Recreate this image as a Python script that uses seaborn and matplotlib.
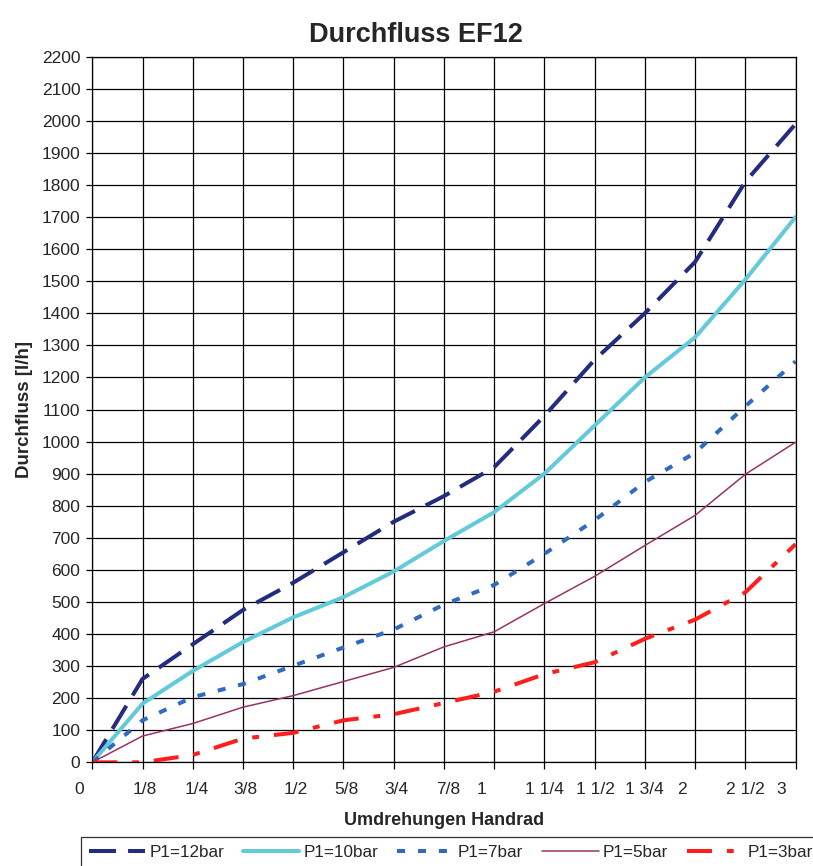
import numpy as np
import pandas as pd
import matplotlib
matplotlib.use("Agg")
import matplotlib.pyplot as plt
import seaborn as sns
from matplotlib.transforms import ScaledTranslation

# Daten
umdrehungen = ["0", "1/8", "1/4", "3/8", "1/2", "5/8", "3/4", "7/8", "1",
               "1 1/4", "1 1/2", "1 3/4", "2", "2 1/2", "3"]
p1_12bar = [0, 260, 368, 475, 560, 655, 750, 830, 920, 1080, 1255, 1400, 1560, 1810, 1990]
p1_10bar = [0, 183, 285, 375, 452, 515, 595, 690, 780, 900, 1050, 1200, 1325, 1505, 1700]
p1_7bar = [0, 131, 203, 244, 301, 358, 414, 492, 553, 650, 755, 874, 965, 1110, 1250]
p1_5bar = [0, 82, 121, 172, 208, 252, 296, 360, 407, 495, 580, 676, 770, 898, 998]
p1_3bar = [0, 0, 23, 74, 92, 131, 150, 185, 220, 275, 312, 385, 445, 530, 680]

serien = ["P1=12bar", "P1=10bar", "P1=7bar", "P1=5bar", "P1=3bar"]
werte = [p1_12bar, p1_10bar, p1_7bar, p1_5bar, p1_3bar]

df = pd.DataFrame({
    "Umdrehungen": umdrehungen * len(serien),
    "Durchfluss": sum(werte, []),
    "Serie": np.repeat(serien, len(umdrehungen)),
})

stile = {
    "P1=12bar": dict(color="#232C7E", lw=2.9, ls=(0, (6.7, 3.0))),
    "P1=10bar": dict(color="#62CAD9", lw=2.9, ls="-"),
    "P1=7bar": dict(color="#2F6BC2", lw=2.9, ls=(0, (2.0, 3.2))),
    "P1=5bar": dict(color="#993366", lw=1.1, ls="-"),
    "P1=3bar": dict(color="#FF1E1E", lw=2.9, ls=(0, (6.2, 3.7, 1.7, 3.7))),
}

sns.set_style("white")
plt.rcParams["font.family"] = ["Liberation Sans", "DejaVu Sans"]

fig = plt.figure(figsize=(8.13, 8.66), dpi=100)
ax = fig.add_axes([0.1135, 0.1197, 0.8650, 0.8148])

for s in serien:
    sub = df[df["Serie"] == s]
    sns.lineplot(data=sub, x="Umdrehungen", y="Durchfluss", ax=ax, sort=False,
                 label=s, color=stile[s]["color"], linewidth=stile[s]["lw"],
                 linestyle=stile[s]["ls"])

ax.set_xlim(0, len(umdrehungen) - 1)
ax.set_ylim(0, 2200)
ax.set_yticks(np.arange(0, 2201, 100))
ax.set_xticks(range(len(umdrehungen)))
ax.set_xticklabels(umdrehungen)
ax.grid(True, color="black", linewidth=0.9)
ax.set_axisbelow(True)
for sp in ax.spines.values():
    sp.set_color("black")
    sp.set_linewidth(0.9)

ax.tick_params(axis="y", direction="out", length=4, width=0.9, color="black",
               labelsize=12.5, pad=4.5, left=True)
ax.tick_params(axis="x", direction="out", length=5, width=0.9, color="black",
               labelsize=12.5, pad=9, bottom=True)

# Excel-artige Verschiebung der x-Beschriftungen (px)
versatz = [-13, 2, 4, 2, 3, 3, 3, 4, -13, 0, 1, 0, -13, 0, -14]
for lab, dx in zip(ax.get_xticklabels(), versatz):
    lab.set_transform(lab.get_transform() + ScaledTranslation(dx / 100, 0, fig.dpi_scale_trans))

ax.set_xlabel("Umdrehungen Handrad", fontsize=13, fontweight="bold", va="top")
ax.xaxis.set_label_coords(0.5, -0.071)
ax.set_ylabel("Durchfluss [l/h]", fontsize=13.5, fontweight="bold", va="center")
ax.yaxis.set_label_coords(-0.0963, 0.5)

fig.text(416 / 813, 1 - 41.7 / 866, "Durchfluss EF12", fontsize=19.5,
         fontweight="bold", ha="center", va="baseline")

ax.legend_.remove()
handles = ax.get_lines()
leg = fig.legend(handles, serien, loc="upper left", ncol=5,
                 bbox_to_anchor=(81 / 813, 1 - 837 / 866), borderaxespad=0,
                 fontsize=12.3, handlelength=3.3, handletextpad=0.25,
                 columnspacing=1.1, frameon=True, fancybox=False, borderpad=0.45)
leg.get_frame().set_edgecolor("black")
leg.get_frame().set_linewidth(0.9)

plt.savefig("out.png", dpi=100)
